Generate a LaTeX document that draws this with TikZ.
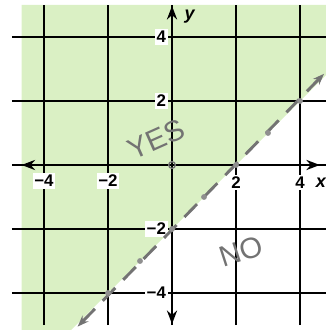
\documentclass[tikz,border=0pt]{standalone}
\usepackage{fontspec}
\setmainfont{Liberation Sans}
\usetikzlibrary{arrows.meta}
\definecolor{crayon}{RGB}{218,240,196}
\definecolor{pencil}{RGB}{115,115,115}

\begin{document}
\begin{tikzpicture}[x=0.5cm,y=0.5cm,
		tick/.style={fill=white,inner sep=0.8pt,font=\fontsize{7.5}{9}\selectfont\bfseries},
		scrawl/.style={text=pencil,inner sep=0pt,font=\fontsize{13}{15}\selectfont},
		pt/.style={fill=pencil!80}
	]
		\useasboundingbox (-5.375,-5.156) rectangle (4.81,5.156);
		\clip (-5.375,-5.156) rectangle (4.81,5.156);

		% shaded half plane
		\fill[crayon] (-4.7,-5.156) -- (-3.15,-5.156) -- (4.81,2.81) -- (4.81,5) -- (-4.7,5) -- cycle;
		\draw[line width=0.8pt] (-5,-5) grid (6,5);

		% axes
		\draw[line width=1.1pt, {Stealth[length=6pt]}-{Stealth[length=6pt]}] (-4.7,0) -- (4.62,0);
		\draw[line width=1.1pt, {Stealth[length=6pt]}-{Stealth[length=6pt]}] (0,-4.97) -- (0,4.97);

		\draw (-4,-0.5) node [tick] (xa) {−4};
		\draw (-2,-0.5) node [tick] (xb) {−2};
		\draw (2,-0.55) node [tick] (xc) {2};
		\draw (4,-0.55) node [tick] (xd) {4};
		\draw (4.65,-0.55) node [tick, fill=none, font=\fontsize{8}{9}\selectfont\bfseries\itshape] (xl) {x};
		\draw (-0.12,4) node [tick, anchor=east] (ya) {4};
		\draw (-0.12,2) node [tick, anchor=east] (yb) {2};
		\draw (-0.12,-2) node [tick, anchor=east] (yc) {−2};
		\draw (-0.12,-4) node [tick, anchor=east] (yd) {−4};
		\draw (0.55,4.65) node [tick, fill=none, font=\fontsize{8}{9}\selectfont\bfseries\itshape] (yl) {y};

		% boundary line y = x - 2
		\draw[pencil, line width=1.3pt, dash pattern=on 8pt off 5pt,
			{Stealth[length=5pt]}-{Stealth[length=5pt]}] (-2.95,-5.05) -- (4.75,2.85);
		\foreach \i in {-2,...,4}
			\fill[pt] (\i,\i-2) circle (1.3pt);
		\draw[pencil, line width=0.6pt] (0,0) circle (1.5pt);

		\draw (-0.5,0.8) node [scrawl, rotate=24] (yes) {YES};
		\draw (2.15,-2.7) node [scrawl, rotate=18] (no) {NO};
	\end{tikzpicture}
\end{document}
